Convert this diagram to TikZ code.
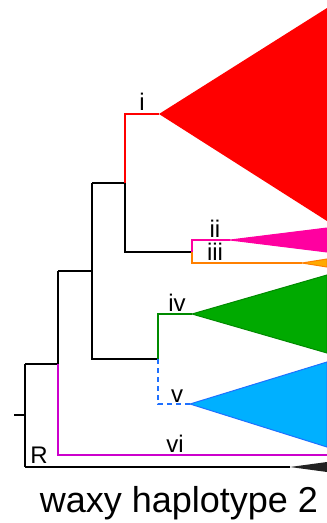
\documentclass[tikz,border=0pt]{standalone}
\usepackage{fontspec}
\setmainfont{Liberation Sans}
\usetikzlibrary{positioning}

\definecolor{cladeI}{HTML}{FF0000}
\definecolor{cladeII}{HTML}{FF00A0}
\definecolor{cladeIIIline}{HTML}{FF8000}
\definecolor{cladeIIIfill}{HTML}{FFAA00}
\definecolor{cladeIVline}{HTML}{008A00}
\definecolor{cladeIVfill}{HTML}{00AA00}
\definecolor{cladeVline}{HTML}{1E70FF}
\definecolor{cladeVfill}{HTML}{00B0FF}
\definecolor{cladeVI}{HTML}{CC00CC}
\definecolor{outgroup}{HTML}{222222}

\begin{document}
\begin{tikzpicture}[x=1pt, y=-1pt, line width=1.8pt,
  branch/.style={draw, line join=miter},
  clade/.style={line width=1pt},
  lab/.style={font=\fontsize{24}{28}\selectfont, inner sep=0pt, anchor=base}]
\useasboundingbox (0,0) rectangle (327,523);

% 分支点
\coordinate (stub) at (14,415);
\coordinate (root) at (25,415);
\coordinate (n1) at (58,364);
\coordinate (n2) at (92,271);
\coordinate (n3) at (125,183);
\coordinate (n4) at (192,252);
\coordinate (n5) at (158,359);

% 各分支末端
\coordinate (tipI) at (159,114);
\coordinate (tipII) at (230,240);
\coordinate (tipIII) at (302,263);
\coordinate (tipIV) at (192,314);
\coordinate (tipV) at (190,404);
\coordinate (tipVI) at (327,455);
\coordinate (tipR) at (290,467);

% 黑色主干
\draw[branch] (stub) -- (root);
\draw[branch] (root |- n1) -- (root |- tipR);
\draw[branch] (root |- n1) -- (n1);
\draw[branch] (n1 |- n2) -- (n1) ;
\draw[branch] (n1 |- n2) -- (n2);
\draw[branch] (n2 |- n3) -- (n2 |- n5) -- (n5);
\draw[branch] (n2 |- n3) -- (n3) -- (n3 |- n4) -- (n4);

% 外群 R
\draw[branch] (root |- tipR) -- (tipR);
\fill[outgroup] (tipR) -- (327,462) -- (327,472) -- cycle;

% vi
\draw[branch, cladeVI] (n1) -- (n1 |- tipVI) -- (tipVI);

% i
\draw[branch, cladeI] (n3) -- (n3 |- tipI) -- (tipI);
\fill[cladeI] (tipI) -- (327,8) -- (327,221) -- cycle;

% ii
\draw[branch, cladeII] (n4) -- (n4 |- tipII) -- (tipII);
\filldraw[clade, cladeII] (tipII) -- (327,228) -- (327,252) -- cycle;

% iii
\draw[branch, cladeIIIline] (n4) -- (n4 |- tipIII) -- (tipIII);
\filldraw[clade, draw=cladeIIIline, fill=cladeIIIfill] (tipIII) -- (327,259) -- (327,267) -- cycle;

% iv
\draw[branch, cladeIVline] (n5) -- (n5 |- tipIV) -- (tipIV);
\filldraw[clade, draw=cladeIVline, fill=cladeIVfill] (tipIV) -- (327,275) -- (327,353) -- cycle;

% v
\draw[branch, cladeVline, dash pattern=on 5pt off 4pt] (n5) -- (n5 |- tipV) -- (tipV);
\filldraw[clade, draw=cladeVline, fill=cladeVfill] (tipV) -- (327,362) -- (327,447) -- cycle;

% 标签
\node[lab] (labI) at (142,110) {i};
\node[lab] (labII) at (215,237) {ii};
\node[lab] (labIII) at (215,260) {iii};
\node[lab] (labIV) at (177,311) {iv};
\node[lab] (labV) at (177,402) {v};
\node[lab] (labVI) at (175,452) {vi};
\node[lab] (labR) at (39,463) {R};

% 标题
\node[lab, font=\fontsize{36}{40}\selectfont] (title) at (179,512) {waxy haplotype 2};
\end{tikzpicture}
\end{document}
